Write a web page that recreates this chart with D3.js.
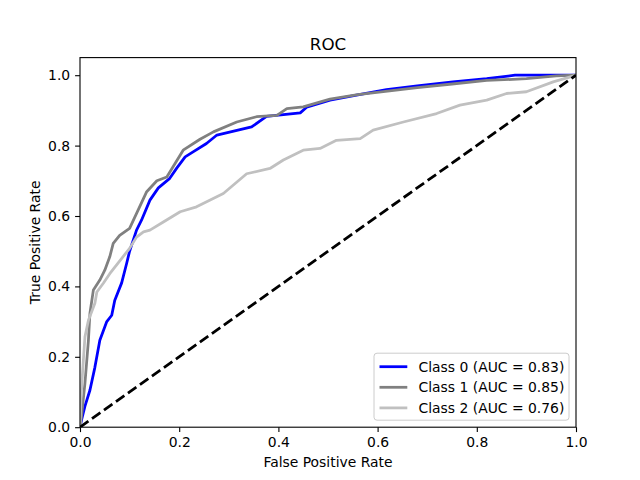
<!DOCTYPE html>
<html><head><meta charset="utf-8">
<script src="https://cdn.jsdelivr.net/npm/d3@7"></script>
<style>body{margin:0;background:#fff}svg{display:block;font-family:"DejaVu Sans",sans-serif}</style>
</head><body><svg id="c" width="640" height="480"></svg>
<script>
const classNames = ["Class 0", "Class 1", "Class 2"];
const aucValues = [0.83, 0.85, 0.76];
const lineColors = ["#0000ff", "#808080", "#c0c0c0"];
const fpr0 = [0, .003, .01, .02, .03, .04, .054, .064, .07, .084, .094, .10, .114, .124, .141, .158, .181, .195, .212, .228, .255, .276, .346, .376, .444, .457, .504, .56, .618, .68, .752, .82, .877, .95, 1];
const tpr0 = [0, .02, .06, .105, .17, .247, .30, .318, .36, .41, .465, .50, .56, .588, .645, .68, .707, .736, .768, .782, .806, .83, .853, .883, .893, .909, .929, .944, .959, .97, .981, .99, 1, 1, 1];
const fpr1 = [0, .003, .01, .017, .02, .027, .04, .05, .06, .067, .08, .10, .134, .155, .175, .208, .242, .269, .316, .356, .397, .417, .45, .504, .56, .62, .68, .75, .82, .9, .96, 1];
const tpr1 = [0, .03, .125, .247, .323, .39, .418, .446, .484, .522, .545, .565, .668, .70, .711, .787, .818, .839, .867, .882, .886, .905, .91, .932, .945, .955, .965, .975, .985, .99, .998, 1];
const fpr2 = [0, .002, .005, .01, .017, .03, .034, .047, .06, .081, .10, .114, .128, .141, .168, .202, .235, .289, .336, .383, .41, .45, .484, .517, .565, .591, .652, .719, .766, .82, .86, .90, .954, 1];
const tpr2 = [0, .08, .153, .257, .304, .352, .384, .409, .436, .474, .508, .54, .555, .56, .583, .612, .626, .664, .72, .735, .759, .787, .792, .815, .82, .844, .867, .891, .915, .929, .948, .953, .981, 1];
const chanceLine = [0, 1];
const xTicks = [0, 0.2, 0.4, 0.6, 0.8, 1.0];
const yTicks = [0, 0.2, 0.4, 0.6, 0.8, 1.0];

const fprs = [fpr0, fpr1, fpr2], tprs = [tpr0, tpr1, tpr2];
const svg = d3.select("#c");
const L = 80, R = 576, T = 57.6, B = 427.2;
const x = d3.scaleLinear().domain([0, 1]).range([L, R]);
const y = d3.scaleLinear().domain([0, 1.05]).range([B, T]);

svg.append("defs").append("clipPath").attr("id", "clip")
  .append("rect").attr("x", L).attr("y", T).attr("width", R - L).attr("height", B - T);

const line = d3.line().x(d => x(d[0])).y(d => y(d[1]));
const g = svg.append("g").attr("clip-path", "url(#clip)");
classNames.forEach((c, i) => {
  const pts = fprs[i].map((f, j) => [f, tprs[i][j]]);
  g.append("path").attr("d", line(pts)).attr("fill", "none")
    .attr("stroke", lineColors[i]).attr("stroke-width", 2.78)
    .attr("stroke-linejoin", "round").attr("stroke-linecap", "square");
});
g.append("path").attr("d", line(chanceLine.map(v => [v, v]))).attr("fill", "none")
  .attr("stroke", "#000").attr("stroke-width", 2.78).attr("stroke-dasharray", "10.3,4.4");

const fmt = d3.format(".1f");
const xa = svg.append("g").attr("transform", `translate(0,${B})`)
  .call(d3.axisBottom(x).tickValues(xTicks).tickFormat(fmt).tickSizeOuter(0).tickSize(4.9).tickPadding(4.9));
const ya = svg.append("g").attr("transform", `translate(${L},0)`)
  .call(d3.axisLeft(y).tickValues(yTicks).tickFormat(fmt).tickSizeOuter(0).tickSize(4.9).tickPadding(4.9));
[xa, ya].forEach(a => {
  a.select(".domain").remove();
  a.selectAll("line").attr("stroke", "#000").attr("stroke-width", 1.1);
  a.selectAll("text").attr("font-size", 13.9).attr("font-family", "DejaVu Sans").attr("fill", "#000");
});
svg.append("rect").attr("x", L).attr("y", T).attr("width", R - L).attr("height", B - T)
  .attr("fill", "none").attr("stroke", "#000").attr("stroke-width", 1.1);

svg.append("text").attr("x", (L + R) / 2).attr("y", T - 8).attr("text-anchor", "middle")
  .attr("font-size", 16.7).text("ROC");
svg.append("text").attr("x", (L + R) / 2).attr("y", 467).attr("text-anchor", "middle")
  .attr("font-size", 13.9).text("False Positive Rate");
svg.append("text").attr("transform", `translate(40,${(T + B) / 2}) rotate(-90)`).attr("text-anchor", "middle")
  .attr("font-size", 13.9).text("True Positive Rate");

// legend
const lw = 195, lh = 67;
const lx = R - 7 - lw, ly = B - 7 - lh;
const lg = svg.append("g");
lg.append("rect").attr("x", lx).attr("y", ly).attr("width", lw).attr("height", lh).attr("rx", 3)
  .attr("fill", "#fff").attr("fill-opacity", 0.8).attr("stroke", "#cccccc").attr("stroke-width", 1);
classNames.forEach((c, i) => {
  const yy = ly + 13.5 + i * 20.6;
  lg.append("line").attr("x1", lx + 5.5).attr("x2", lx + 33.3).attr("y1", yy).attr("y2", yy)
    .attr("stroke", lineColors[i]).attr("stroke-width", 2.78);
  lg.append("text").attr("x", lx + 44.5).attr("y", yy + 5).attr("font-size", 13.9)
    .text(`${c} (AUC = ${aucValues[i].toFixed(2)})`);
});
</script></body></html>
